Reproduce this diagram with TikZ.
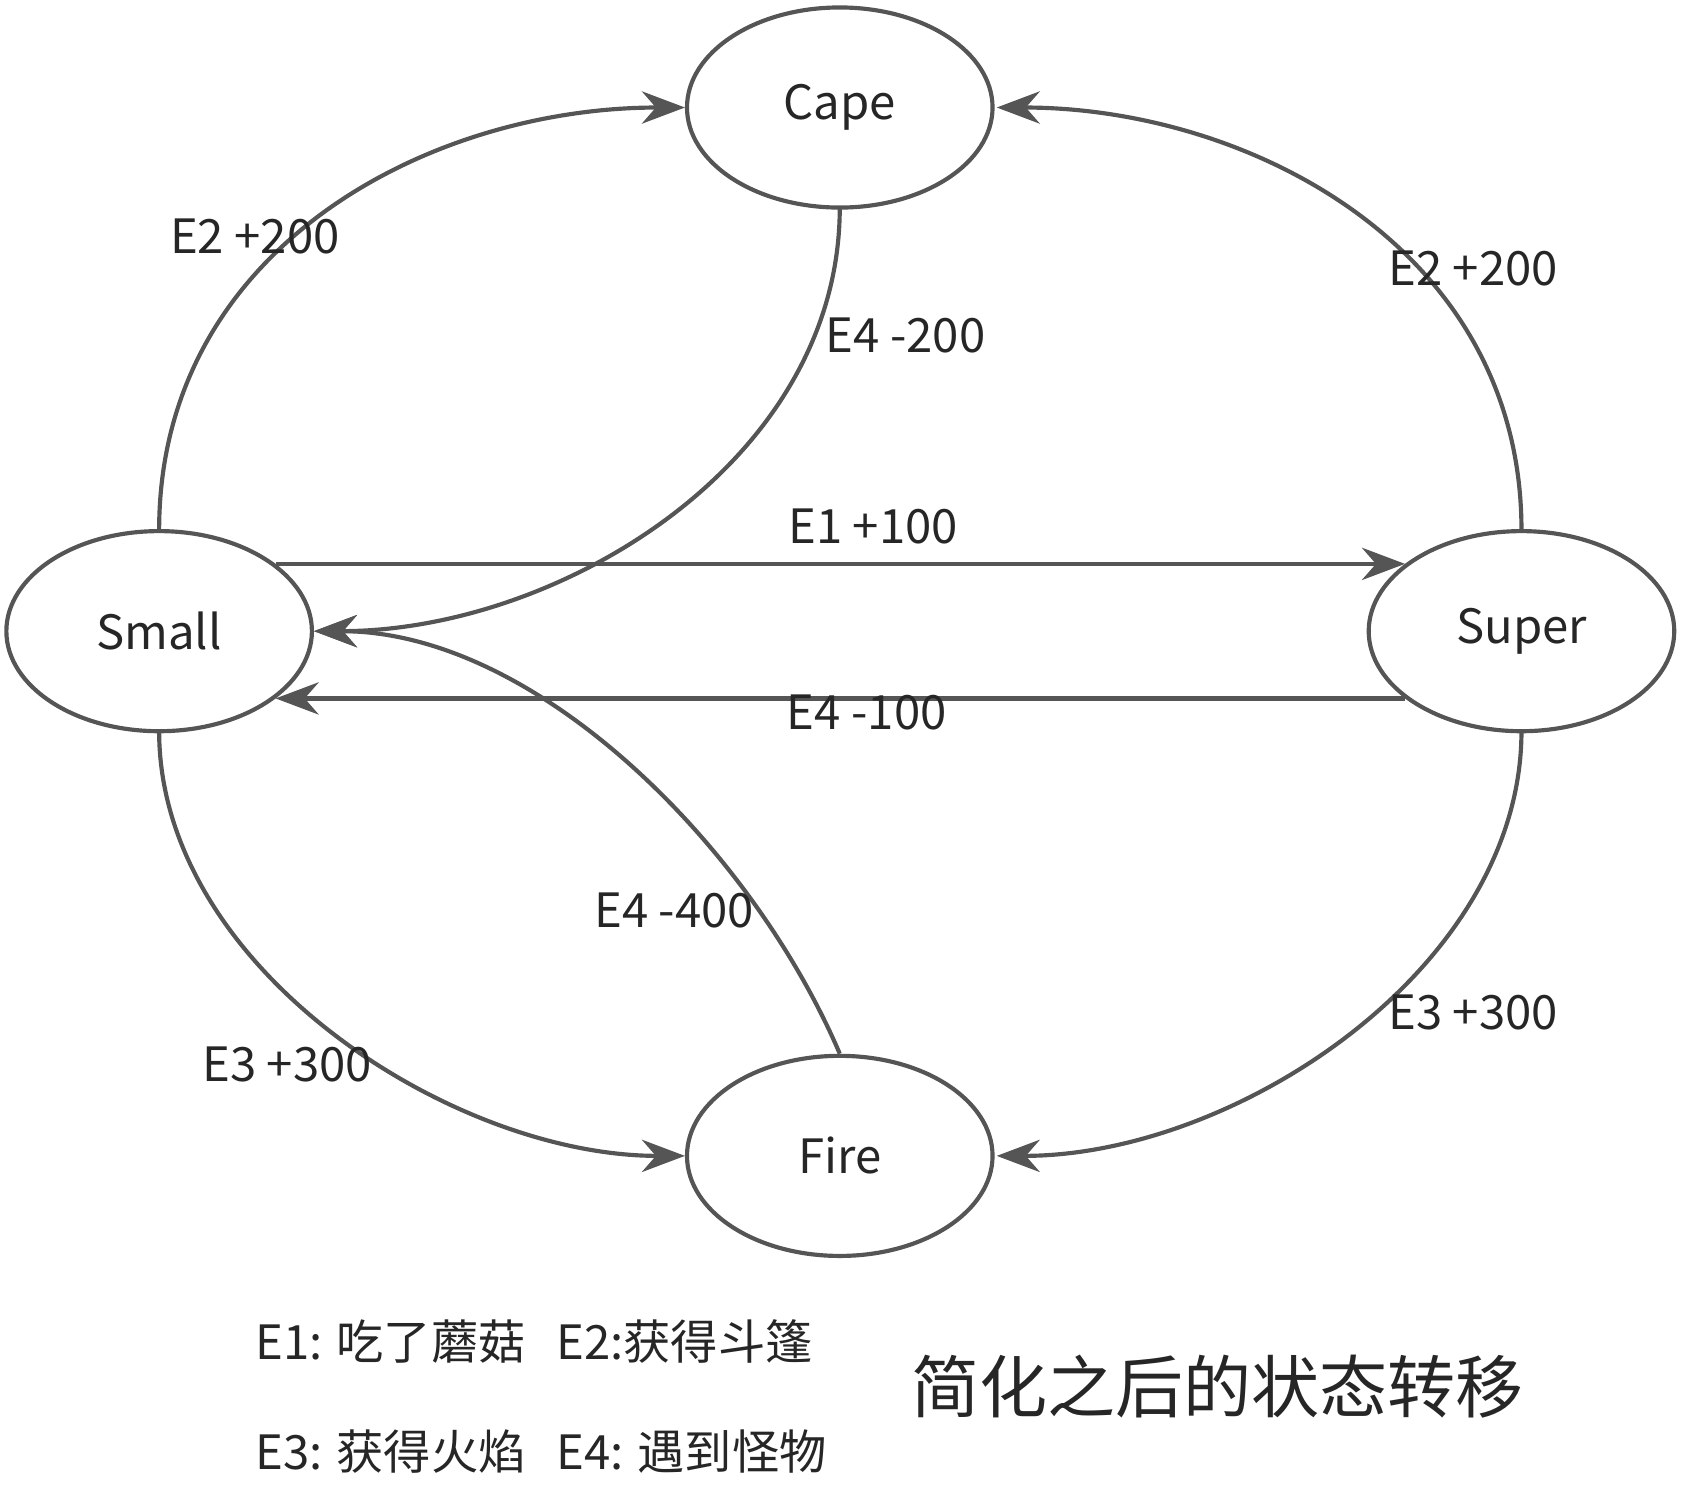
\documentclass[tikz,border=0pt]{standalone}
\usepackage{fontspec}
\setmainfont{Noto Sans CJK SC}
\usetikzlibrary{positioning, arrows.meta, shapes.geometric}
\definecolor{edgegray}{HTML}{555555}
\newcommand{\fsmedge}[4]{\draw [-{Stealth[length=4mm,width=3mm]}, edgegray, line width=1.1pt] (#1) #4 (#3);}
\newcommand{\fsmstate}[3]{\node[draw=edgegray, line width=1.1pt, ellipse, minimum width=2.84cm, minimum height=1.86cm, #3] (#1) {#2};}

\begin{document}
\begin{tikzpicture}[x=0.01cm, y=-0.01cm, font=\fontsize{12.5}{15}\selectfont, every node/.style={text=black!85}]
\useasboundingbox (0,0) rectangle (1568,1395);

\fsmstate{cape}{Cape}{at={(781,100)}};
\fsmstate{small}{Small}{at={(148,587)}};
\fsmstate{super}{Super}{at={(1415,587)}};
\fsmstate{fire}{Fire}{at={(781,1075)}};

\coordinate (smallin) at (292,587);
\coordinate (smalltop) at (148,493);
\coordinate (smallbot) at (148,680);
\coordinate (supertop) at (1415,493);
\coordinate (superbot) at (1415,680);
\coordinate (capel) at (637,100);
\coordinate (caper) at (927,100);
\coordinate (capeb) at (781,193);
\coordinate (firel) at (637,1075);
\coordinate (firer) at (927,1075);
\coordinate (firet) at (781,980);

\fsmedge{smalltop}{}{capel}{.. controls (148,230) and (400,100) ..};
\fsmedge{supertop}{}{caper}{.. controls (1415,230) and (1160,100) ..};
\fsmedge{capeb}{}{smallin}{.. controls (781,430) and (520,587) ..};
\fsmedge{firet}{}{smallin}{.. controls (700,790) and (500,587) ..};
\fsmedge{smallbot}{}{firel}{.. controls (148,900) and (420,1075) ..};
\fsmedge{superbot}{}{firer}{.. controls (1415,900) and (1150,1075) ..};
\fsmedge{small.30}{}{super.150}{--};
\fsmedge{super.210}{}{small.330}{--};

\node (lsc) at (237,220) {E2 +200};
\node (lpc) at (1370,250) {E2 +200};
\node (lcs) at (842,312) {E4 -200};
\node (lss) at (812,490) {E1 +100};
\node (lps) at (806,663) {E4 -100};
\node (lfs) at (627,847) {E4 -400};
\node (lsf) at (267,990) {E3 +300};
\node (lpf) at (1370,942) {E3 +300};

\node[anchor=west] (k1) at (225,1248) {E1: 吃了蘑菇};
\node[anchor=west] (k2) at (505,1248) {E2:获得斗篷};
\node[anchor=west] (k3) at (225,1350) {E3: 获得火焰};
\node[anchor=west] (k4) at (505,1350) {E4: 遇到怪物};
\node[anchor=west, font=\fontsize{18}{22}\selectfont] (title) at (835,1290) {简化之后的状态转移};
\end{tikzpicture}
\end{document}
